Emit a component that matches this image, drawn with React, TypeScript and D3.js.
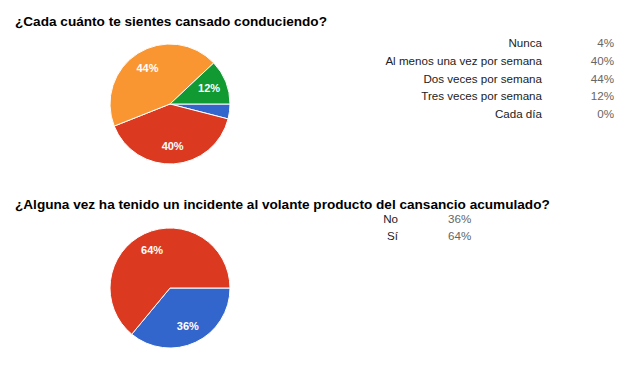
import React from 'react';
import * as d3 from 'd3';

const title1 = '¿Cada cuánto te sientes cansado conduciendo?';
const labels1 = ['Nunca', 'Al menos una vez por semana', 'Dos veces por semana', 'Tres veces por semana', 'Cada día'];
const values1 = [4, 40, 44, 12, 0];
const colors1 = ['#3366cc', '#dc3a20', '#f99631', '#109a31', '#990099'];

const title2 = '¿Alguna vez ha tenido un incidente al volante producto del cansancio acumulado?';
const labels2 = ['No', 'Sí'];
const values2 = [36, 64];
const colors2 = ['#3366cc', '#dc3a20'];

const FONT = 'Arial, "Liberation Sans", sans-serif';

const PieChart = ({ values, colors, cx, cy, r }) => {
  const createPie = d3
    .pie<number>()
    .value((d) => d)
    .sort(null)
    .startAngle(Math.PI / 2)
    .endAngle(Math.PI / 2 + 2 * Math.PI);
  const createArc = d3.arc<any>().innerRadius(0).outerRadius(r);
  const labelArc = d3.arc<any>().innerRadius(r * 0.7).outerRadius(r * 0.7);
  const data = createPie(values);
  return (
    <g transform={`translate(${cx},${cy})`}>
      {data.map((d, i) =>
        d.value > 0 ? (
          <path key={i} d={createArc(d)} fill={colors[i]} stroke="#fff" strokeWidth={1} />
        ) : null
      )}
      {data.map((d, i) => {
        if (d.value < 5) return null;
        const [x, y] = labelArc.centroid(d);
        return (
          <text
            key={'t' + i}
            x={x}
            y={y}
            dy="0.35em"
            textAnchor="middle"
            fill="#fff"
            fontSize={11}
            fontWeight="bold"
            fontFamily={FONT}
          >
            {d.value}%
          </text>
        );
      })}
    </g>
  );
};

const App = () => {
  return (
    <svg
      width={644}
      height={369}
      style={{ position: 'absolute', left: 0, top: 0, background: '#fff' }}
    >
      <text x={15} y={26} fontSize={13.6} fontWeight="bold" fontFamily={FONT} fill="#000">
        {title1}
      </text>
      <PieChart values={values1} colors={colors1} cx={170} cy={104} r={60} />
      {labels1.map((l, i) => (
        <g key={i}>
          <text x={542} y={47 + i * 17.8} textAnchor="end" fontSize={11.6} fontFamily={FONT} fill="#222">
            {l}
          </text>
          <text x={614} y={47 + i * 17.8} textAnchor="end" fontSize={11.6} fontFamily={FONT} fill="#666">
            {values1[i]}%
          </text>
        </g>
      ))}

      <text x={15} y={209} fontSize={13.6} fontWeight="bold" fontFamily={FONT} fill="#000">
        {title2}
      </text>
      <PieChart values={values2} colors={colors2} cx={170} cy={288} r={60} />
      {labels2.map((l, i) => (
        <g key={i}>
          <text x={398} y={223} dy={i * 17} textAnchor="end" fontSize={11.6} fontFamily={FONT} fill="#222">
            {l}
          </text>
          <text x={448} y={223} dy={i * 17} textAnchor="start" fontSize={11.6} fontFamily={FONT} fill="#666">
            {values2[i]}%
          </text>
        </g>
      ))}
    </svg>
  );
};

export default App;
